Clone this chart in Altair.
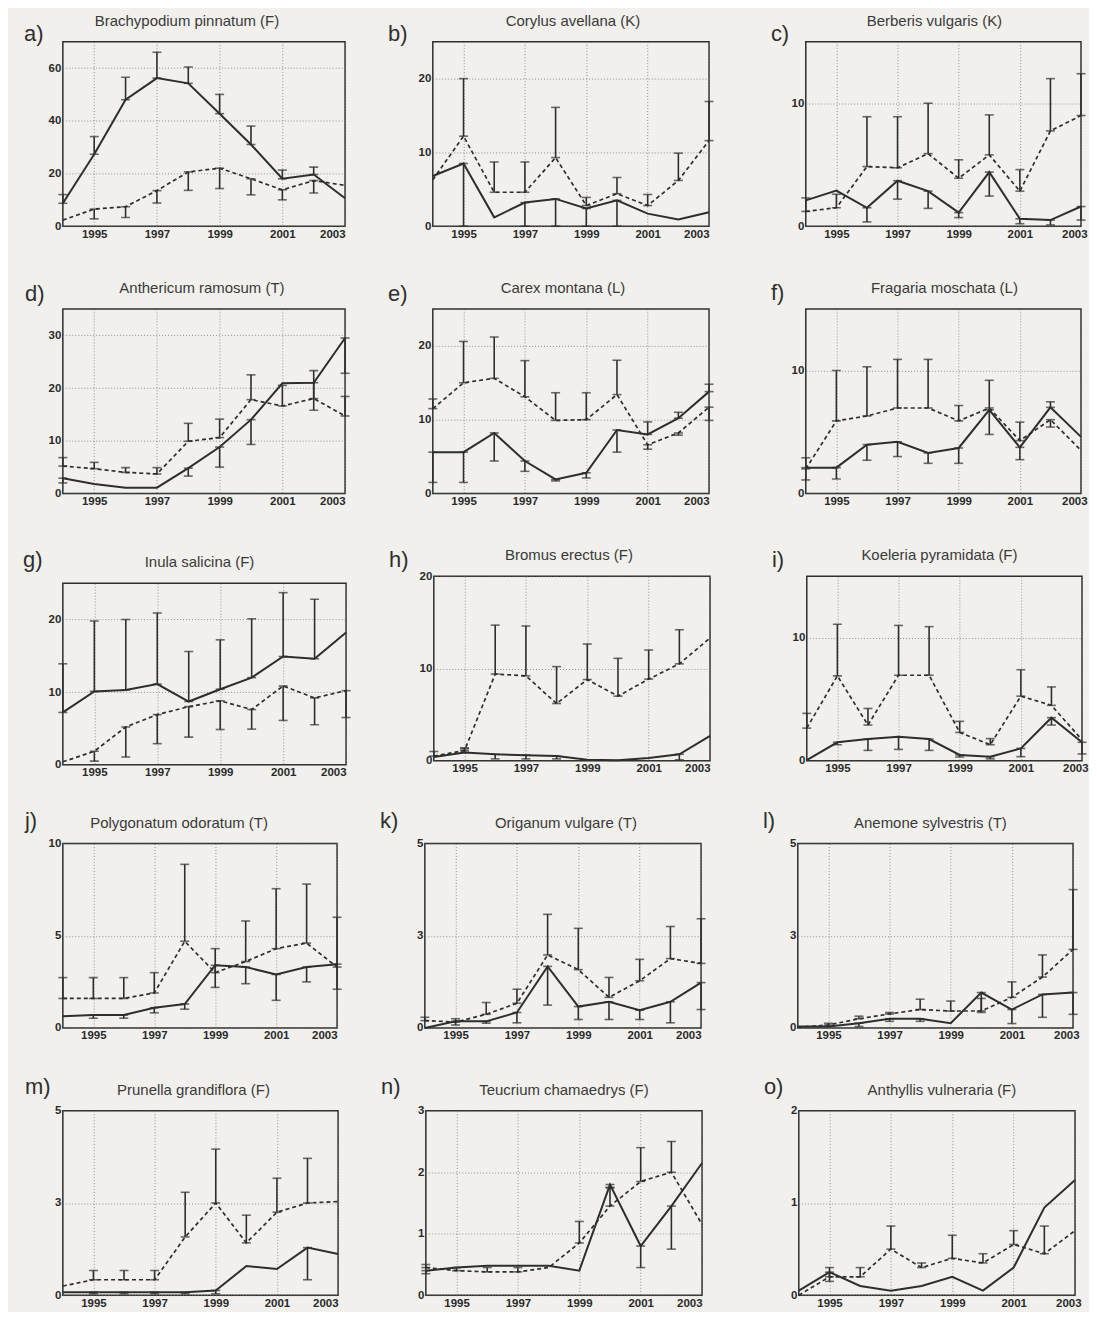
import altair as alt
import pandas as pd

YEARS = [1994, 1995, 1996, 1997, 1998, 1999, 2000, 2001, 2002, 2003]
N = None

# a) Brachypodium pinnatum (F)
a_solid = [8.7, 27.3, 48.0, 56.2, 54.2, 42.7, 31.0, 18.0, 19.6, 10.6]
a_solid_err = [12.0, 34.0, 56.5, 66.0, 60.4, 50.0, 38.0, 21.3, 22.4, N]
a_dash = [2.3, 6.5, 7.4, 13.5, 20.6, 22.0, 18.0, 13.8, 17.3, 15.5]
a_dash_err = [N, 2.8, 3.3, 8.8, 13.6, 14.3, 11.9, 10.0, 12.6, N]

# b) Corylus avellana (K)
b_solid = [6.8, 8.5, 1.2, 3.2, 3.7, 2.4, 3.5, 1.7, 0.9, 1.9]
b_solid_err = [N, 0.0, N, 0.0, 0.0, 0.0, 0.0, N, N, N]
b_dash = [6.3, 12.2, 4.6, 4.6, 9.3, 2.8, 4.4, 2.8, 6.2, 11.6]
b_dash_err = [N, 20.0, 8.7, 8.7, 16.1, 3.9, 6.6, 4.3, 9.9, 16.9]

# c) Berberis vulgaris (K)
c_solid = [2.1, 2.9, 1.5, 3.7, 2.85, 1.1, 4.4, 0.6, 0.5, 1.6]
c_solid_err = [N, N, 0.35, 2.2, 1.45, 0.7, 2.45, 0.2, 0.1, 0.5]
c_dash = [1.2, 1.5, 4.85, 4.75, 5.9, 3.9, 5.8, 2.85, 7.75, 9.0]
c_dash_err = [2.3, 2.6, 8.9, 8.9, 10.0, 5.4, 9.05, 4.6, 12.0, 12.4]

# d) Anthericum ramosum (T)
d_solid = [2.9, 1.8, 1.1, 1.1, 4.8, 8.8, 14.0, 20.9, 21.0, 29.5]
d_solid_err = [2.0, N, N, N, 3.3, 5.0, 9.3, N, 15.8, 22.8]
d_dash = [5.2, 4.7, 4.0, 3.7, 9.9, 10.6, 17.8, 16.6, 18.0, 14.7]
d_dash_err = [6.8, 5.9, 4.9, 4.9, 13.3, 14.1, 22.5, 20.5, 23.3, 18.4]

# e) Carex montana (L)
e_solid = [5.6, 5.6, 8.2, 4.4, 1.9, 2.8, 8.6, 8.0, 10.2, 13.8]
e_solid_err = [1.5, 1.5, 4.4, 3.0, 1.7, 2.1, 5.6, 9.7, 11.0, 14.8]
e_dash = [11.5, 15.0, 15.6, 13.1, 9.9, 10.0, 13.4, 6.6, 8.2, 11.7]
e_dash_err = [12.8, 20.6, 21.2, 18.0, 13.65, 13.65, 18.05, 6.0, 7.9, 9.9]

# f) Fragaria moschata (L)
f_solid = [2.1, 2.1, 3.97, 4.2, 3.3, 3.7, 6.8, 3.75, 7.0, 4.6]
f_solid_err = [1.1, 1.17, 2.7, 3.0, 2.45, 2.45, 4.8, 2.75, 7.45, N]
f_dash = [2.0, 5.9, 6.3, 6.95, 6.95, 5.9, 6.95, 4.3, 6.0, 3.5]
f_dash_err = [2.9, 10.0, 10.3, 10.9, 10.9, 7.15, 9.2, 5.8, 5.4, N]

# g) Inula salicina (F)
g_solid = [7.2, 10.1, 10.3, 11.1, 8.7, 10.4, 12.0, 14.9, 14.6, 18.2]
g_solid_err = [13.9, 19.8, 20.0, 20.9, 15.6, 17.2, 20.1, 23.7, 22.8, N]
g_dash = [0.4, 1.85, 5.2, 6.9, 8.0, 8.8, 7.6, 10.85, 9.2, 10.2]
g_dash_err = [N, 0.5, 1.06, 2.9, 3.8, 4.85, 4.9, 6.1, 5.5, 6.5]

# h) Bromus erectus (F)
h_solid = [0.4, 0.9, 0.7, 0.6, 0.5, 0.1, 0.05, 0.3, 0.7, 2.7]
h_solid_err = [N, 1.3, 0.2, 0.2, 0.2, N, N, N, 0.1, N]
h_dash = [0.5, 1.1, 9.4, 9.2, 6.2, 8.8, 7.0, 8.85, 10.5, 13.3]
h_dash_err = [1.0, 1.4, 14.7, 14.6, 10.2, 12.65, 11.1, 12.0, 14.2, N]

# i) Koeleria pyramidata (F)
i_solid = [0.05, 1.5, 1.76, 1.95, 1.76, 0.47, 0.33, 1.0, 3.5, 1.5]
i_solid_err = [N, 1.3, 0.84, 0.92, 0.84, 0.3, 0.15, 0.33, 2.9, 0.55]
i_dash = [2.65, 6.9, 2.9, 6.95, 6.95, 2.3, 1.3, 5.25, 4.5, 1.7]
i_dash_err = [3.85, 11.1, 4.25, 11.0, 10.9, 3.2, 1.8, 7.4, 6.0, N]

# j) Polygonatum odoratum (T)
j_solid = [0.64, 0.7, 0.7, 1.1, 1.3, 3.4, 3.3, 2.9, 3.3, 3.46]
j_solid_err = [N, 0.53, 0.53, 0.82, 1.02, 2.2, 2.4, 1.5, 2.5, 2.1]
j_dash = [1.6, 1.6, 1.6, 1.9, 4.7, 3.0, 3.6, 4.3, 4.6, 3.3]
j_dash_err = [2.73, 2.73, 2.73, 3.0, 8.87, 4.3, 5.8, 7.55, 7.8, 6.0]

# k) Origanum vulgare (T)
k_solid = [0.0, 0.18, 0.18, 0.42, 1.67, 0.58, 0.71, 0.48, 0.71, 1.23]
k_solid_err = [N, 0.08, 0.13, 0.14, 0.62, 0.23, 0.23, 0.23, 0.14, 0.5]
k_dash = [0.2, 0.16, 0.37, 0.67, 1.98, 1.58, 0.83, 1.28, 1.88, 1.75]
k_dash_err = [0.29, 0.25, 0.69, 1.05, 3.08, 2.7, 1.37, 1.86, 2.75, 2.96]

# l) Anemone sylvestris (T)
l_solid = [0.04, 0.04, 0.13, 0.25, 0.25, 0.13, 0.96, 0.5, 0.91, 0.96]
l_solid_err = [N, N, 0.04, 0.18, 0.18, N, 0.42, 0.12, 0.29, 0.37]
l_dash = [0.02, 0.08, 0.25, 0.38, 0.5, 0.46, 0.46, 0.83, 1.38, 2.13]
l_dash_err = [N, 0.13, 0.32, 0.42, 0.78, 0.73, 0.8, 1.25, 1.98, 3.75]

# m) Prunella grandiflora (F)
m_solid = [0.08, 0.08, 0.08, 0.08, 0.08, 0.13, 0.79, 0.71, 1.29, 1.12]
m_solid_err = [N, 0.04, 0.04, 0.04, 0.04, 0.04, N, N, 0.42, N]
m_dash = [0.25, 0.42, 0.42, 0.42, 1.58, 2.5, 1.42, 2.25, 2.5, 2.54]
m_dash_err = [N, 0.67, 0.67, 0.67, 2.79, 3.96, 2.17, 3.17, 3.71, N]

# n) Teucrium chamaedrys (F)
n_solid = [0.4, 0.45, 0.48, 0.48, 0.48, 0.4, 1.8, 0.8, 1.45, 2.15]
n_solid_err = [0.35, N, N, N, N, N, 1.75, 0.45, 0.75, N]
n_dash = [0.45, 0.4, 0.38, 0.38, 0.45, 0.85, 1.45, 1.85, 2.0, 1.15]
n_dash_err = [0.5, 0.45, 0.45, 0.45, N, 1.2, 1.75, 2.4, 2.5, N]

# o) Anthyllis vulneraria (F)
o_solid = [0.05, 0.25, 0.1, 0.05, 0.1, 0.2, 0.05, 0.3, 0.95, 1.25]
o_solid_err = [N, 0.15, N, N, N, N, N, N, N, N]
o_dash = [0.0, 0.2, 0.2, 0.5, 0.3, 0.4, 0.35, 0.55, 0.45, 0.7]
o_dash_err = [N, 0.3, 0.3, 0.75, 0.35, 0.65, 0.45, 0.7, 0.75, N]

LETTERS = ["a)", "b)", "c)", "d)", "e)", "f)", "g)", "h)", "i)", "j)", "k)", "l)", "m)", "n)", "o)"]
TITLES = [
    "Brachypodium pinnatum (F)", "Corylus avellana (K)", "Berberis vulgaris (K)",
    "Anthericum ramosum (T)", "Carex montana (L)", "Fragaria moschata (L)",
    "Inula salicina (F)", "Bromus erectus (F)", "Koeleria pyramidata (F)",
    "Polygonatum odoratum (T)", "Origanum vulgare (T)", "Anemone sylvestris (T)",
    "Prunella grandiflora (F)", "Teucrium chamaedrys (F)", "Anthyllis vulneraria (F)",
]
Y_MAX = [70, 25, 15, 35, 25, 15, 25, 20, 15, 10, 5, 5, 5, 3, 2]
Y_TICKS = [
    [0, 20, 40, 60], [0, 10, 20], [0, 10],
    [0, 10, 20, 30], [0, 10, 20], [0, 10],
    [0, 10, 20], [0, 10, 20], [0, 10],
    [0, 5, 10], [0, 2.5, 5], [0, 2.5, 5],
    [0, 2.5, 5], [0, 1, 2, 3], [0, 1, 2],
]
X_TICKS = [1995, 1997, 1999, 2001, 2003]

SERIES = [
    (a_solid, a_solid_err, a_dash, a_dash_err), (b_solid, b_solid_err, b_dash, b_dash_err),
    (c_solid, c_solid_err, c_dash, c_dash_err), (d_solid, d_solid_err, d_dash, d_dash_err),
    (e_solid, e_solid_err, e_dash, e_dash_err), (f_solid, f_solid_err, f_dash, f_dash_err),
    (g_solid, g_solid_err, g_dash, g_dash_err), (h_solid, h_solid_err, h_dash, h_dash_err),
    (i_solid, i_solid_err, i_dash, i_dash_err), (j_solid, j_solid_err, j_dash, j_dash_err),
    (k_solid, k_solid_err, k_dash, k_dash_err), (l_solid, l_solid_err, l_dash, l_dash_err),
    (m_solid, m_solid_err, m_dash, m_dash_err), (n_solid, n_solid_err, n_dash, n_dash_err),
    (o_solid, o_solid_err, o_dash, o_dash_err),
]

# layout / style (not data)
WIDTHS = [283, 277, 276, 283, 277, 276, 284, 277, 276, 275, 277, 276, 276, 277, 277]
HEIGHTS = [185, 185, 185, 185, 185, 185, 182, 185, 185, 185, 185, 185, 185, 185, 185]
LETTER_POS = [(-39, -8), (-45, -8), (-35, -8), (-38, -15), (-45, -15), (-35, -16),
              (-40, -23), (-45, -16), (-35, -16), (-38, -23), (-45, -23), (-35, -23),
              (-38, -24), (-45, -24), (-35, -24)]
TITLE_DX = [-17, 2, -9, -2, -8, 1, -5, -3, -5, -21, 3, -5, -7, 0, 5]
TITLE_Y = -21
G_SHIFT = 7

FONT = "Liberation Sans"
INK = "#2e2e2e"
BG = "#f1f0ec"


def panel(idx):
    solid, solid_err, dash, dash_err = SERIES[idx]
    line_rows, err_rows, cap_rows = [], [], []
    for name, vals, errs in (("solid", solid, solid_err), ("dash", dash, dash_err)):
        for yr, v, e in zip(YEARS, vals, errs):
            line_rows.append({"year": yr, "v": v, "s": name})
            if e is not None:
                err_rows.append({"year": yr, "v": min(v, e), "v2": max(v, e)})
                cap_rows.append({"year": yr, "v": v})
                cap_rows.append({"year": yr, "v": e})
    xs = alt.Scale(domain=[1994, 2003], nice=False, zero=False)
    ys = alt.Scale(domain=[0, Y_MAX[idx]], nice=False, zero=False)
    if idx % 3 == 2:
        xax = alt.Axis(values=X_TICKS, format="d", title=None, labelFlush=True, labelFlushOffset=6)
    else:
        xax = alt.Axis(values=X_TICKS, format="d", title=None)
    yax = alt.Axis(values=Y_TICKS[idx], format=".0f", title=None)
    X = alt.X("year:Q", scale=xs, axis=xax)
    Y = alt.Y("v:Q", scale=ys, axis=yax)
    lines = alt.Chart(pd.DataFrame(line_rows))
    solid_l = lines.transform_filter("datum.s == 'solid'").mark_line(
        color=INK, strokeWidth=2).encode(x=X, y=Y, order="year:Q")
    dash_l = lines.transform_filter("datum.s == 'dash'").mark_line(
        color=INK, strokeWidth=1.7, strokeDash=[4, 3]).encode(x=X, y=Y, order="year:Q")
    layers = [solid_l, dash_l]
    if err_rows:
        rules = alt.Chart(pd.DataFrame(err_rows)).mark_rule(
            color=INK, strokeWidth=1.6).encode(x=X, y=Y, y2="v2:Q")
        caps = alt.Chart(pd.DataFrame(cap_rows)).mark_tick(
            color=INK, orient="horizontal", size=9, thickness=1.6).encode(x=X, y=Y)
        layers += [rules, caps]
    lx, ly = LETTER_POS[idx]
    labels = pd.DataFrame({"t": [LETTERS[idx]], "n": [TITLES[idx]]})
    letter = alt.Chart(labels).mark_text(
        align="left", baseline="middle", fontSize=22, font=FONT, color=INK
    ).encode(text="t:N", x=alt.value(lx), y=alt.value(ly))
    name = alt.Chart(labels).mark_text(
        align="center", baseline="middle", fontSize=15, font=FONT, color="#3a3a3a"
    ).encode(text="n:N", x=alt.value(WIDTHS[idx] / 2 + TITLE_DX[idx]), y=alt.value(TITLE_Y))
    layers += [letter, name]
    return alt.layer(*layers).properties(width=WIDTHS[idx], height=HEIGHTS[idx])


rows = []
for r in range(5):
    p = [panel(3 * r + c) for c in range(3)]
    inner = alt.hconcat(p[1], p[2], spacing=97, bounds="flush")
    if r == 2:
        # panel g sits a little lower than h and i in the original figure
        spacer = alt.Chart(pd.DataFrame({"z": [0]})).mark_point(opacity=0).encode(
            x=alt.value(0), y=alt.value(0)
        ).properties(width=WIDTHS[6], height=G_SHIFT,
                     view=alt.ViewBackground(stroke="transparent"))
        first = alt.vconcat(spacer, p[0], spacing=0, bounds="flush")
        rows.append(alt.hconcat(first, inner, spacing=88 + WIDTHS[6], bounds="flush"))
    else:
        rows.append(alt.hconcat(p[0], inner, spacing=88, bounds="flush"))

# nested flush rows report zero height, so the spacing is the full row pitch
chart = alt.vconcat(*rows, spacing=268, bounds="flush").properties(
    padding={"left": 14, "top": 3, "right": 0, "bottom": 0}
).configure(background=BG).configure_view(
    stroke=INK, strokeWidth=1.5
).configure_axis(
    grid=True, gridColor="#7a7a7a", gridDash=[1, 2], gridWidth=0.8,
    domain=False, ticks=False, labelFont=FONT, labelFontSize=11.5,
    labelFontWeight="bold", labelColor="#2a2a2a", labelPadding=2,
)

chart.save("out.html", embed_options={"renderer": "svg", "actions": False})
